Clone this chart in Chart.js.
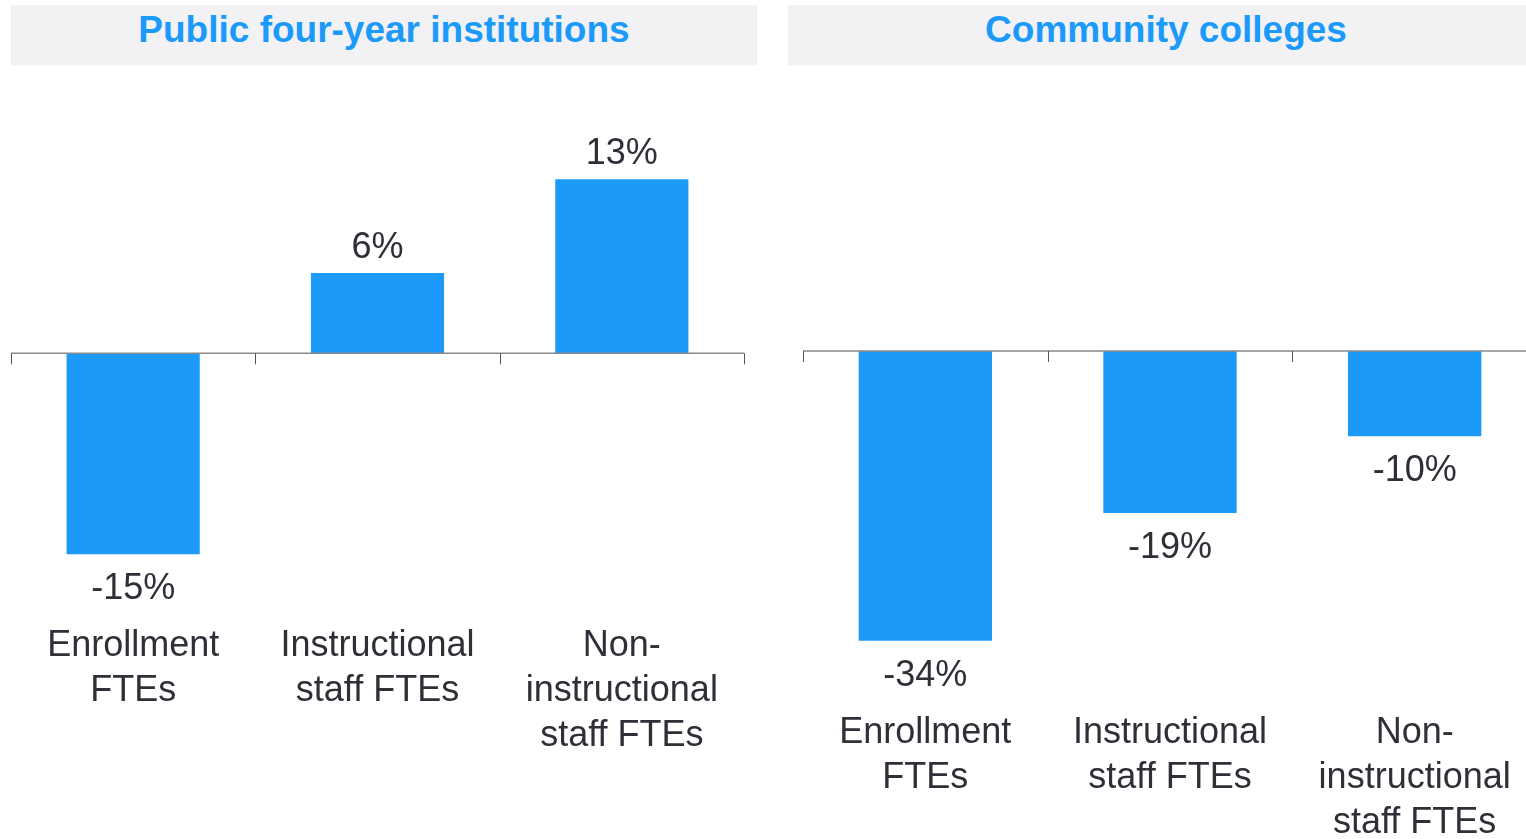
<!DOCTYPE html>
<html>
<head>
<meta charset="utf-8">
<script src="https://cdn.jsdelivr.net/npm/chart.js@4.4.1/dist/chart.umd.min.js"></script>
<style>
  html, body { margin: 0; padding: 0; background: #fff; overflow: hidden; }
  body { width: 1526px; height: 839px; position: relative; }
  .band {
    position: absolute; top: 5px; height: 60px; background: #f2f2f4;
    color: #1b9afa; font: bold 37px "Liberation Sans", Arial, sans-serif;
    text-align: center; line-height: 50px;
  }
  .box { position: absolute; top: 0; width: 770px; height: 839px; }
</style>
</head>
<body>
<div class="band" style="left:11px;width:746px;">Public four-year institutions</div>
<div class="band" style="left:788px;width:760px;padding-right:4px;box-sizing:border-box;">Community colleges</div>
<div class="box" style="left:0;"><canvas id="leftChart"></canvas></div>
<div class="box" style="left:780px;"><canvas id="rightChart"></canvas></div>
<script>
// categories shared by both panels
const categories = [
    ["Enrollment", "FTEs"],
    ["Instructional", "staff FTEs"],
    ["Non-", "instructional", "staff FTEs"]
];
// percent change
const publicFourYear = [-15, 6, 13];
const communityColleges = [-34, -19, -10];

const barBlue = "#1b9afa";
const textColor = "#2f2f37";
const fontFamily = "'Liberation Sans', Arial, sans-serif";

// zero line with tick marks at the category boundaries
const zeroAxis = {
    id: "zeroAxis",
    afterDatasetsDraw(chart) {
        const ctx = chart.ctx;
        const x = chart.scales.x;
        const y0 = chart.scales.y.getPixelForValue(0);
        ctx.save();
        ctx.strokeStyle = "#8a8a8a";
        ctx.lineWidth = 1.5;
        ctx.beginPath();
        ctx.moveTo(chart.chartArea.left, y0);
        ctx.lineTo(chart.chartArea.right, y0);
        ctx.stroke();
        ctx.strokeStyle = "#555";
        ctx.lineWidth = 1;
        ctx.beginPath();
        for (let i = 0; i <= chart.data.labels.length; i++) {
            const px = Math.round(x.getPixelForValue(i - 0.5)) + 0.5;
            ctx.moveTo(px, y0);
            ctx.lineTo(px, y0 + 11);
        }
        ctx.stroke();
        ctx.restore();
    }
};

// percent labels above / below each bar
const valueLabels = {
    id: "valueLabels",
    afterDatasetsDraw(chart) {
        const ctx = chart.ctx;
        const meta = chart.getDatasetMeta(0);
        const values = chart.data.datasets[0].data;
        ctx.save();
        ctx.fillStyle = textColor;
        ctx.font = "36px " + fontFamily;
        ctx.textAlign = "center";
        ctx.textBaseline = "middle";
        meta.data.forEach((bar, i) => {
            const v = values[i];
            const y = v >= 0 ? bar.y - 25 : bar.y + 35;
            ctx.fillText(v + "%", bar.x, y);
        });
        ctx.restore();
    }
};

function makeChart(id, values, yMin, yMax, axisHeight, padLeft, padRight) {
    new Chart(document.getElementById(id), {
        type: "bar",
        data: {
            labels: categories,
            datasets: [{
                data: values,
                backgroundColor: barBlue,
                borderWidth: 0,
                barPercentage: 0.545,
                categoryPercentage: 1
            }]
        },
        options: {
            responsive: true,
            maintainAspectRatio: false,
            animation: false,
            layout: { padding: { top: 80, left: padLeft, right: padRight, bottom: 0 } },
            plugins: { legend: { display: false }, tooltip: { enabled: false } },
            scales: {
                x: {
                    grid: { display: false, drawTicks: false },
                    border: { display: false },
                    ticks: {
                        color: textColor,
                        padding: 5,
                        maxRotation: 0,
                        autoSkip: false,
                        font: { family: fontFamily, size: 36, lineHeight: "45px" }
                    },
                    afterFit(scale) { scale.height = axisHeight; }
                },
                y: {
                    display: false,
                    min: yMin,
                    max: yMax
                }
            }
        },
        plugins: [zeroAxis, valueLabels]
    });
}

makeChart("leftChart", publicFourYear, -19.8, 20.4, 220.5, 11, 26);
makeChart("rightChart", communityColleges, -41.6, 31.8, 133.5, 23, 13);
</script>
</body>
</html>
